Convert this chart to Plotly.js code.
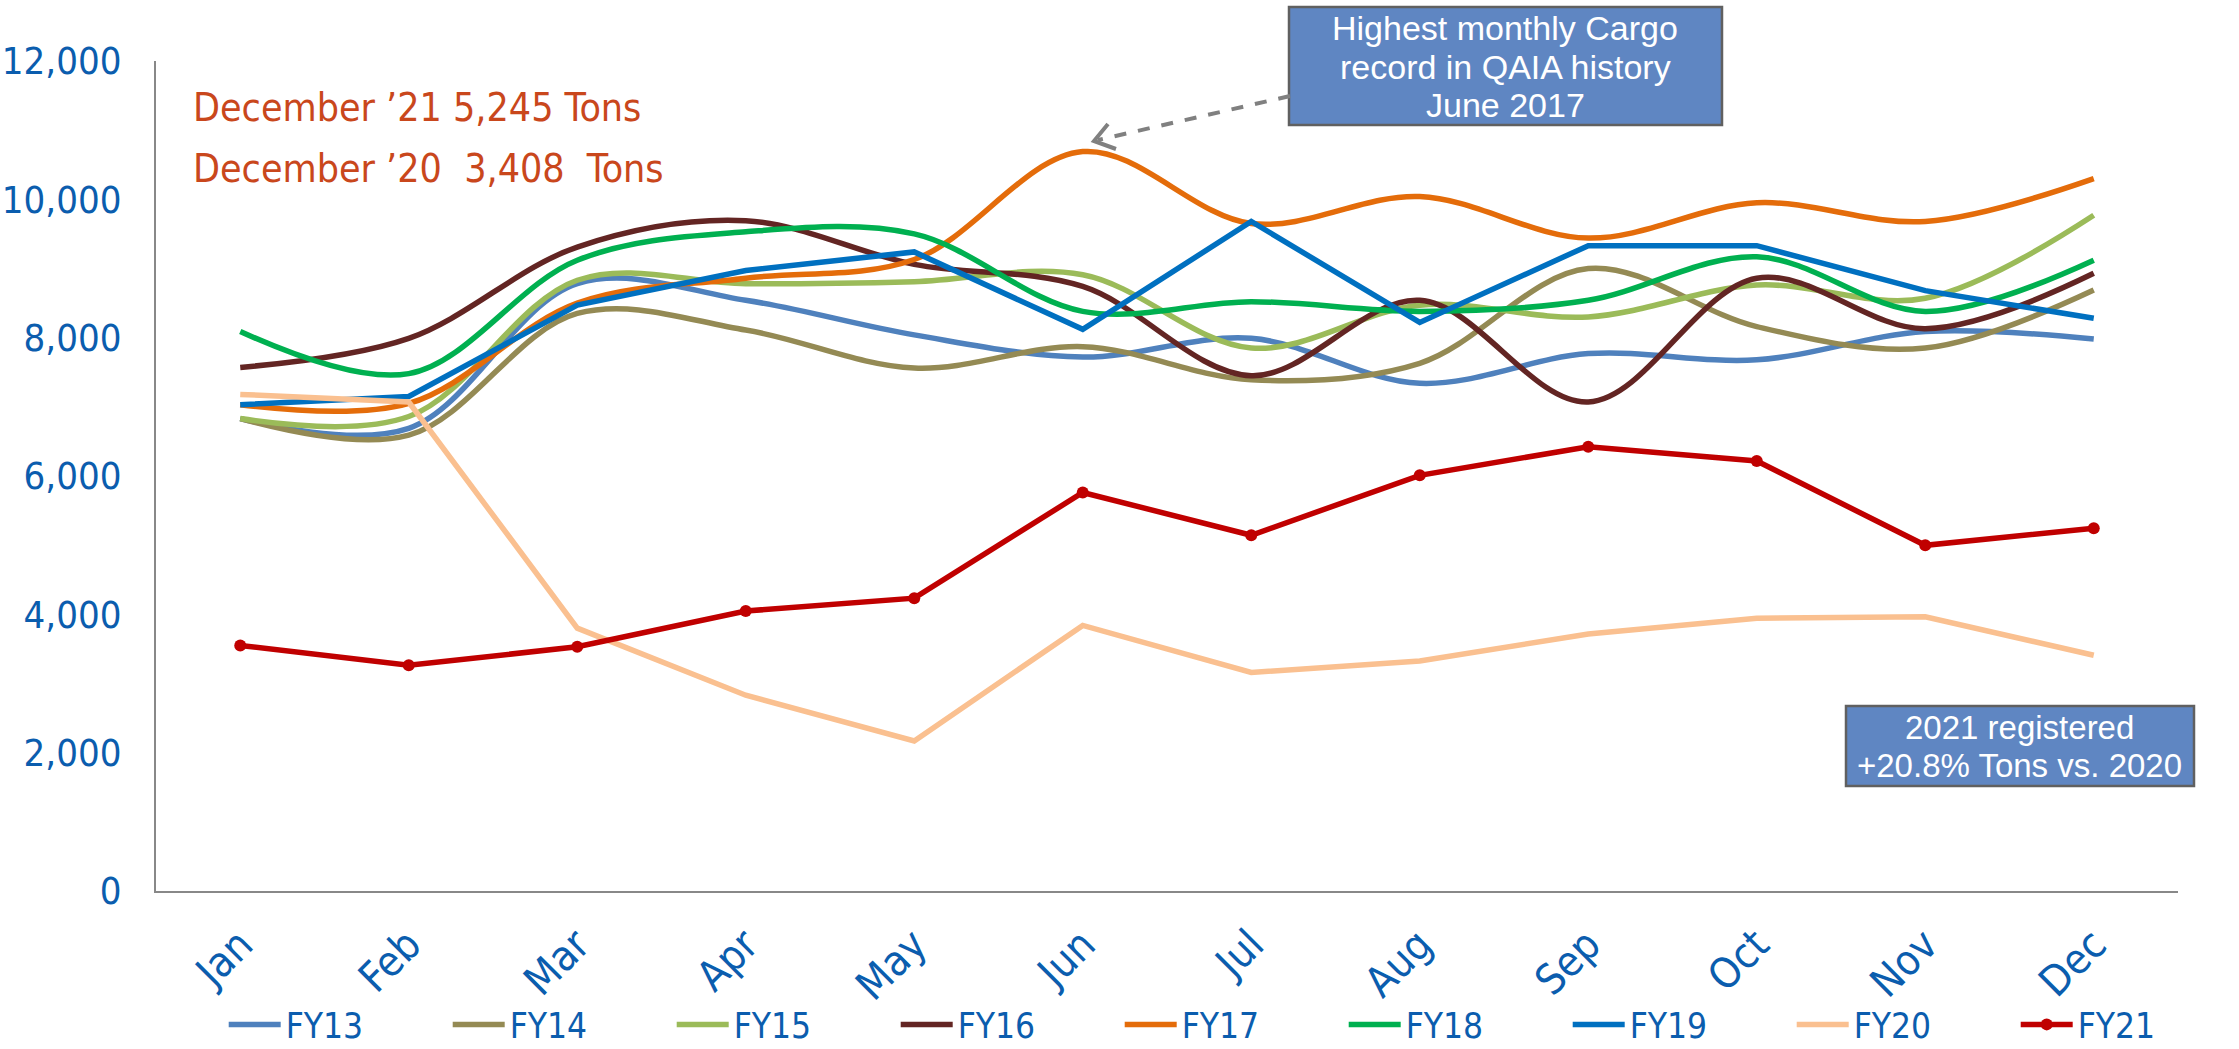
<!DOCTYPE html>
<html>
<head>
<meta charset="utf-8">
<script src="https://cdn.plot.ly/plotly-3.0.1.min.js"></script>
<style>html,body{margin:0;padding:0;background:#fff;}#chart{width:2239px;height:1049px;}</style>
</head>
<body>
<div id="chart"></div>
<script>
const months = ['Jan','Feb','Mar','Apr','May','Jun','Jul','Aug','Sep','Oct','Nov','Dec'];
const FY13 = [6830, 6690, 8780, 8540, 8040, 7720, 7990, 7340, 7770, 7680, 8090, 7980];
const FY14 = [6830, 6590, 8350, 8110, 7560, 7870, 7390, 7630, 9000, 8160, 7850, 8690];
const FY15 = [6830, 6860, 8830, 8780, 8810, 8910, 7850, 8470, 8300, 8760, 8570, 9770];
const FY16 = [7570, 7990, 9310, 9690, 9060, 8740, 7450, 8540, 7070, 8860, 8130, 8930];
const FY17 = [7030, 7050, 8500, 8860, 9130, 10690, 9650, 10040, 9440, 9950, 9680, 10300];
const FY18 = [8090, 7480, 9120, 9530, 9500, 8380, 8520, 8380, 8540, 9170, 8380, 9120];
const FY19 = [7030, 7150, 8470, 8970, 9240, 8120, 9680, 8220, 9330, 9330, 8680, 8280];
const FY20 = [7180, 7070, 3800, 2830, 2170, 3840, 3160, 3325, 3717, 3945, 3965, 3408];
const FY21 = [3550, 3263, 3531, 4048, 4234, 5762, 5143, 6010, 6423, 6217, 4998, 5245];
const seriesNames = ['FY13','FY14','FY15','FY16','FY17','FY18','FY19','FY20','FY21'];
const yTicks = [0, 2000, 4000, 6000, 8000, 10000, 12000];
const yTickText = ['0','2,000','4,000','6,000','8,000','10,000','12,000'];
const noteTop1 = 'December \u201921 5,245 Tons';
const noteTop2 = 'December \u201920\u00a0\u00a03,408\u00a0\u00a0Tons';
const noteBox1Lines = ['Highest monthly Cargo', 'record in QAIA history', 'June 2017'];
const noteBox2Lines = ['2021 registered', '+20.8% Tons vs. 2020'];

const seriesData = [FY13, FY14, FY15, FY16, FY17, FY18, FY19, FY20, FY21];
const colors = ['#4F81BD','#948A54','#9BBB59','#632523','#E46C0A','#00B050','#0070C0','#FAC090','#C00000'];
const shapesKind = ['spline','spline','spline','spline','spline','spline','linear','linear','linear'];

const NARROW = '"DejaVu Sans Condensed", "Liberation Sans", Arial, sans-serif';
const NORMAL = '"Liberation Sans", Arial, sans-serif';
const BLUE = '#0B5DAE';

const traces = seriesData.map((vals, i) => {
  const t = {
    x: months, y: vals, name: seriesNames[i], type: 'scatter',
    mode: i === 8 ? 'lines+markers' : 'lines',
    line: {color: colors[i], width: 5.5, shape: shapesKind[i], smoothing: 1}
  };
  if (i === 8) t.marker = {color: colors[i], size: 12, symbol: 'circle'};
  return t;
});

// plot area in pixels
const L = 156, R = 2178, T = 61, B = 891;
const px = x => (x - L) / (R - L);
const py = y => (B - y) / (B - T);

const boxText = (txt, xc, yc, size) => ({
  xref: 'paper', yref: 'paper', x: px(xc), y: py(yc), xanchor: 'center', yanchor: 'middle',
  text: txt, showarrow: false, font: {family: NORMAL, size: size, color: '#ffffff'}
});

const head = [1094, 141], tail = [1290, 96];
const annotations = [
  {xref: 'paper', yref: 'paper', x: px(191), y: py(107), xanchor: 'left', yanchor: 'middle',
   text: noteTop1, showarrow: false, font: {family: NARROW, size: 39, color: '#C9471C'}},
  {xref: 'paper', yref: 'paper', x: px(191), y: py(168), xanchor: 'left', yanchor: 'middle',
   text: noteTop2, showarrow: false, font: {family: NARROW, size: 39, color: '#C9471C'}}
];
noteBox1Lines.forEach((t, i) => annotations.push(boxText(t, 1505, 28 + i * 38.5, 34)));
noteBox2Lines.forEach((t, i) => annotations.push(boxText(t, 2019, 727 + i * 38.5, 33)));

const layout = {
  width: 2239, height: 1049,
  margin: {l: L, r: 2239 - R, t: T, b: 1049 - B, autoexpand: false},
  paper_bgcolor: '#ffffff', plot_bgcolor: '#ffffff',
  showlegend: true,
  xaxis: {
    type: 'category', range: [-0.5, 11.5],
    showline: true, linecolor: '#888888', linewidth: 2,
    showgrid: false, zeroline: false, ticks: '', ticklabelstandoff: 10,
    tickangle: -45, tickfont: {family: NARROW, size: 42, color: BLUE}
  },
  yaxis: {
    range: [0, 12000], tickvals: yTicks, ticktext: yTickText,
    showline: true, linecolor: '#888888', linewidth: 2,
    showgrid: false, zeroline: false, ticks: '', ticklabelstandoff: 25,
    tickfont: {family: NARROW, size: 38, color: BLUE}
  },
  legend: {
    orientation: 'h', x: 0.532, xanchor: 'center', y: -0.161, yanchor: 'middle',
    font: {family: NARROW, size: 35, color: BLUE},
    entrywidth: 157, entrywidthmode: 'pixels', itemwidth: 52,
    traceorder: 'normal', bgcolor: 'rgba(0,0,0,0)'
  },
  annotations: annotations,
  shapes: [
    {type: 'rect', xref: 'paper', yref: 'paper', x0: px(1289), x1: px(1722), y0: py(7), y1: py(125),
     fillcolor: '#5F86C2', line: {color: '#606060', width: 2.5}, layer: 'below'},
    {type: 'rect', xref: 'paper', yref: 'paper', x0: px(1846), x1: px(2194), y0: py(706), y1: py(786),
     fillcolor: '#5F86C2', line: {color: '#606060', width: 2.5}, layer: 'above'},
    {type: 'line', xref: 'paper', yref: 'paper',
     x0: px(tail[0]), y0: py(tail[1]), x1: px(head[0] + 4), y1: py(head[1] - 1),
     line: {color: '#808080', width: 4, dash: 'dash'}},
    {type: 'path', xref: 'paper', yref: 'paper',
     path: 'M ' + px(1108) + ' ' + py(124) + ' L ' + px(head[0]) + ' ' + py(head[1]) + ' L ' + px(1116) + ' ' + py(149),
     line: {color: '#808080', width: 4}}
  ]
};

Plotly.newPlot('chart', traces, layout, {staticPlot: true, displayModeBar: false});
</script>
</body>
</html>
